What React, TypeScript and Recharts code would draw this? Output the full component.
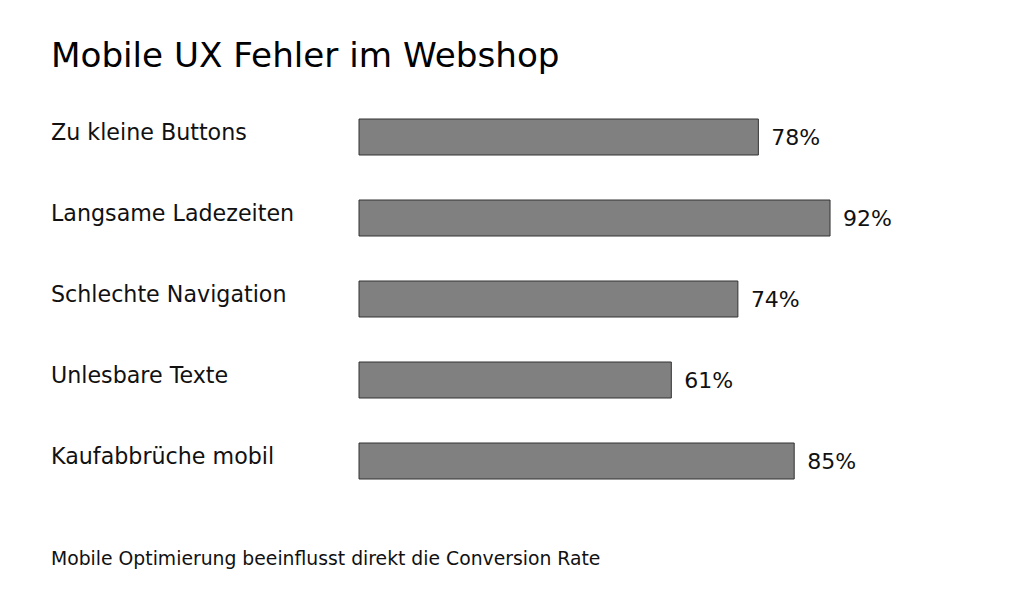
import React from 'react';
import { BarChart, Bar, XAxis, YAxis, LabelList } from 'recharts';

const categories = [
    'Zu kleine Buttons',
    'Langsame Ladezeiten',
    'Schlechte Navigation',
    'Unlesbare Texte',
    'Kaufabbrüche mobil',
];
const values = [78, 92, 74, 61, 85];

const title = 'Mobile UX Fehler im Webshop';
const footer = 'Mobile Optimierung beeinflusst direkt die Conversion Rate';

const data = categories.map((name, i) => ({ name, value: values[i] }));

const FONT = '"DejaVu Sans", sans-serif';

const CategoryTick = ({ y, payload }: any) => (
    <text x={51} y={y + 3.5} fontSize={22.2} fontFamily={FONT} fill="#111" textAnchor="start">
        {payload.value}
    </text>
);

const App: React.FC = () => {
    return (
        <div style={{ position: 'absolute', top: 0, left: 0, width: 1024, height: 597, background: '#fff' }}>
            <svg width={1024} height={597} style={{ position: 'absolute', top: 0, left: 0 }}>
                <text x={51} y={67} fontSize={34.2} fontFamily={FONT} fill="#000">{title}</text>
                <text x={51} y={565} fontSize={18.8} fontFamily={FONT} fill="#111">{footer}</text>
            </svg>
            <div style={{ position: 'absolute', top: 0, left: 0 }}>
                <BarChart
                    width={1024}
                    height={597}
                    data={data}
                    layout="vertical"
                    margin={{ top: 96, right: 153, bottom: 96, left: 0 }}
                >
                    <XAxis type="number" domain={[0, 100]} hide />
                    <YAxis
                        type="category"
                        dataKey="name"
                        width={359}
                        axisLine={false}
                        tickLine={false}
                        tick={<CategoryTick />}
                    />
                    <Bar dataKey="value" fill="#808080" stroke="#333" strokeWidth={1} barSize={36} isAnimationActive={false}>
                        <LabelList
                            dataKey="value"
                            position="right"
                            offset={13}
                            formatter={(v: any) => `${v}%`}
                            fontSize={22}
                            fontFamily={FONT}
                            fill="#111"
                        />
                    </Bar>
                </BarChart>
            </div>
        </div>
    );
};

export default App;
